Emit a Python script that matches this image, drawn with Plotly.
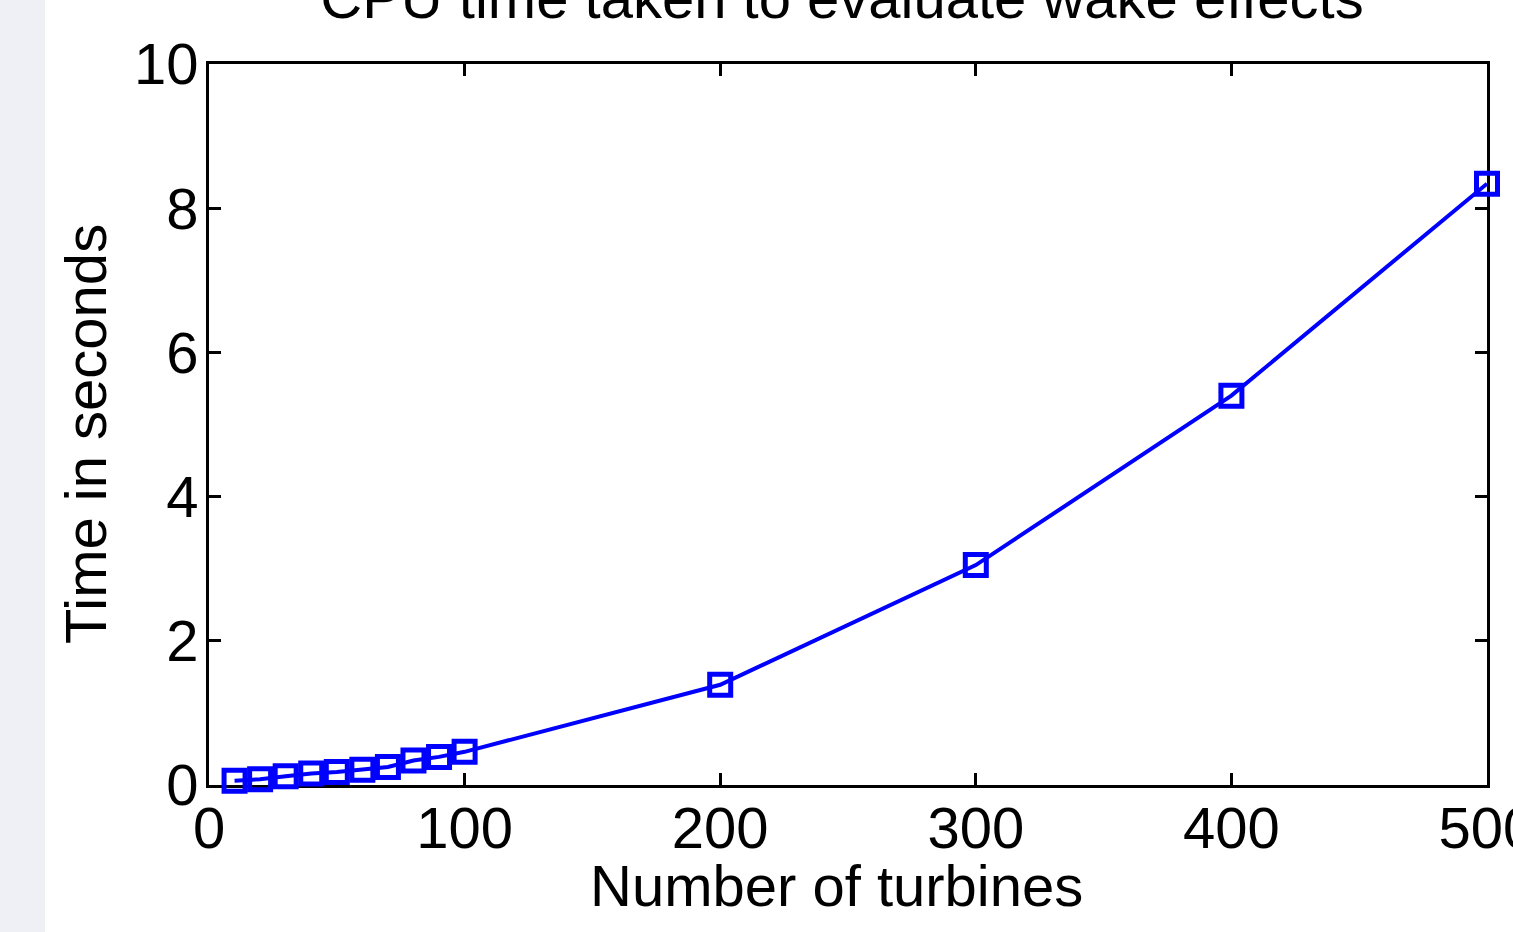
import plotly.graph_objects as go

turbines = [10, 20, 30, 40, 50, 60, 70, 80, 90, 100, 200, 300, 400, 500]
times = [0.06, 0.08, 0.12, 0.16, 0.18, 0.21, 0.25, 0.34, 0.39, 0.46, 1.39, 3.05, 5.40, 8.34]
x_ticks = [0, 100, 200, 300, 400, 500]
y_ticks = [0, 2, 4, 6, 8, 10]

W, H = 1513, 932
L, R, T, B = 209, 26, 64, 147
pw, ph = W - L - R, H - T - B

FONT = "Liberation Sans, Arial, Helvetica, sans-serif"


def px_x(x):
    return (x - L) / pw


def px_y(y):
    return (H - B - y) / ph


fig = go.Figure()
fig.add_trace(go.Scatter(
    x=turbines, y=times, mode="lines+markers",
    line=dict(color="#0000ff", width=4),
    marker=dict(symbol="square-open", size=21, color="#0000ff", line=dict(width=5, color="#0000ff")),
    cliponaxis=False, showlegend=False,
))

axis_common = dict(
    showline=True, linecolor="black", linewidth=3, mirror="ticks",
    ticks="inside", ticklen=12, tickwidth=3, tickcolor="black",
    showgrid=False, zeroline=False, layer="below traces",
    tickfont=dict(family=FONT, size=58, color="black"),
    ticklabeloverflow="allow", automargin=False,
)

fig.update_layout(
    width=W, height=H,
    margin=dict(l=L, r=R, t=T, b=B, autoexpand=False),
    paper_bgcolor="white", plot_bgcolor="white",
    title=dict(text="CPU time taken to evaluate wake effects", font=dict(family=FONT, size=58, color="black"),
               x=842 / W, xanchor="center", yref="container", y=1 - 18 / H, yanchor="bottom"),
    xaxis=dict(range=[0, 500], tickvals=x_ticks, ticktext=[str(v) for v in x_ticks],
               ticklabelstandoff=-10, **axis_common),
    yaxis=dict(range=[0, 10], tickvals=y_ticks, ticktext=[str(v) for v in y_ticks],
               ticklabelstandoff=-4, **axis_common),
    annotations=[
        dict(text="Number of turbines", xref="paper", yref="paper", x=px_x(836), y=px_y(885),
             xanchor="center", yanchor="middle", showarrow=False,
             font=dict(family=FONT, size=58, color="black")),
        dict(text="Time in seconds", xref="paper", yref="paper", x=px_x(85), y=px_y(434),
             xanchor="center", yanchor="middle", showarrow=False, textangle=-90,
             font=dict(family=FONT, size=58, color="black")),
    ],
    shapes=[dict(type="rect", xref="paper", yref="paper", x0=-L / pw, x1=(45 - L) / pw,
                 y0=-B / ph - 0.05, y1=1 + T / ph + 0.05, fillcolor="#eff0f5", line=dict(width=0), layer="below")],
)

fig.write_html("out.html")
